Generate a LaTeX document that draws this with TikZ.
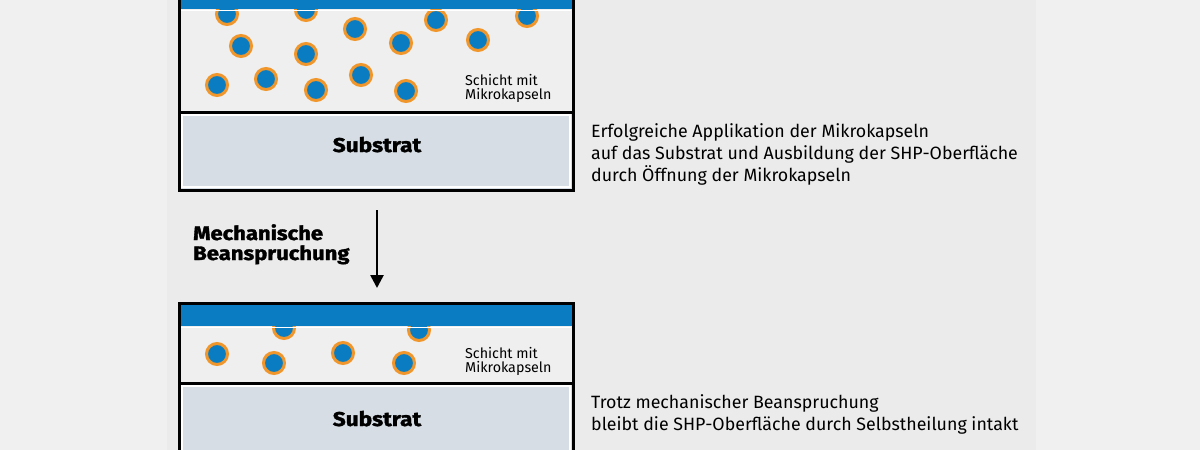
\documentclass[tikz,border=0pt]{standalone}
\usepackage{fontspec}
\setmainfont{Fira Sans}
\newfontfamily\heavyfont{Fira Sans}[BoldFeatures={FakeBold=1.6}]
\usetikzlibrary{arrows.meta}
\definecolor{bgout}{HTML}{F0F0F0}
\definecolor{bgin}{HTML}{EBEBEB}
\definecolor{layerc}{HTML}{EFEFEF}
\definecolor{bandc}{HTML}{0A7DC2}
\definecolor{capsring}{HTML}{F0962A}
\definecolor{capscore}{HTML}{0A7DC2}
\definecolor{substc}{HTML}{D6DDE4}
\tikzset{
  boxline/.style={draw=black, line width=3pt},
  inner/.style={draw=white, line width=1.2pt},
  caps/.style={fill=capscore, draw=capsring, line width=3pt},
  subtext/.style={font=\heavyfont\bfseries\fontsize{20}{22}\selectfont, inner sep=0pt, anchor=base},
  layertext/.style={font=\fontsize{14.3}{13.5}\selectfont, align=left, anchor=base west, inner sep=0pt},
  desc/.style={font=\fontsize{17.8}{21.8}\selectfont, align=left, anchor=base west, inner sep=0pt},
  headtext/.style={font=\heavyfont\bfseries\fontsize{19.5}{20}\selectfont, align=left, anchor=base west, inner sep=0pt},
  arrowline/.style={line width=2.6pt, -{Triangle[length=13pt,width=13pt]}}
}
\newcommand{\wide}[1]{\scalebox{1.13}[1]{#1}}
\begin{document}
\begin{tikzpicture}[x=1pt,y=-1pt]
\fill[bgout] (0,0) rectangle (1200,450);
\fill[bgin] (167,0) rectangle (1036,450);
\useasboundingbox (0,0) rectangle (1200,450);

% ---------- top box ----------
\fill[layerc] (179,-6) rectangle (573,112);
\foreach \x/\y in {227/14,306/10,355/29,436/20,527/16,241/46,306/54,401/43,478/40,217/85,266/79,316/90,361/75,406/91}
  \draw[caps] (\x,\y) circle (10.5);
\fill[bandc] (179,-6) rectangle (573,9);
\draw[white, line width=1pt] (181,10) -- (571,10);
\fill[substc] (179,112) rectangle (573,190);
\draw[inner] (182,115) rectangle (570,187);
\draw[boxline] (179,-6) rectangle (573,190);
\draw[boxline] (179,112) -- (573,112);
\node[subtext] (sub1) at (377,152) {\wide{Substrat}};
\node[layertext] (sch1) at (465,99) {Schicht mit\\Mikrokapseln};

% ---------- arrow ----------
\node[headtext] (mech) at (193,260) {\wide{Mechanische}\\\wide{Beanspruchung}};
\coordinate (a1) at (377,210);
\coordinate (a2) at (377,288);
\draw[arrowline] (a1) -- (a2);

% ---------- bottom box ----------
\fill[layerc] (179,303) rectangle (573,383);
\foreach \x/\y in {284/328,419/330,217/354,274/363,343/353,404/363}
  \draw[caps] (\x,\y) circle (10.5);
\fill[bandc] (179,303) rectangle (573,326);
\draw[white, line width=1pt] (181,327) -- (571,327);
\fill[substc] (179,383) rectangle (573,460);
\draw[inner] (182,386) rectangle (570,460);
\draw[boxline] (179,460) -- (179,303) -- (573,303) -- (573,460);
\draw[boxline] (179,383) -- (573,383);
\node[subtext] (sub2) at (377,426) {\wide{Substrat}};
\node[layertext] (sch2) at (465,372) {Schicht mit\\Mikrokapseln};

% ---------- descriptions ----------
\node[desc] (d1) at (591,181) {Erfolgreiche Applikation der Mikrokapseln\\auf das Substrat und Ausbildung der SHP-Oberfläche\\durch Öffnung der Mikrokapseln};
\node[desc] (d2) at (591,430) {Trotz mechanischer Beanspruchung\\bleibt die SHP-Oberfläche durch Selbstheilung intakt};
\end{tikzpicture}
\end{document}
